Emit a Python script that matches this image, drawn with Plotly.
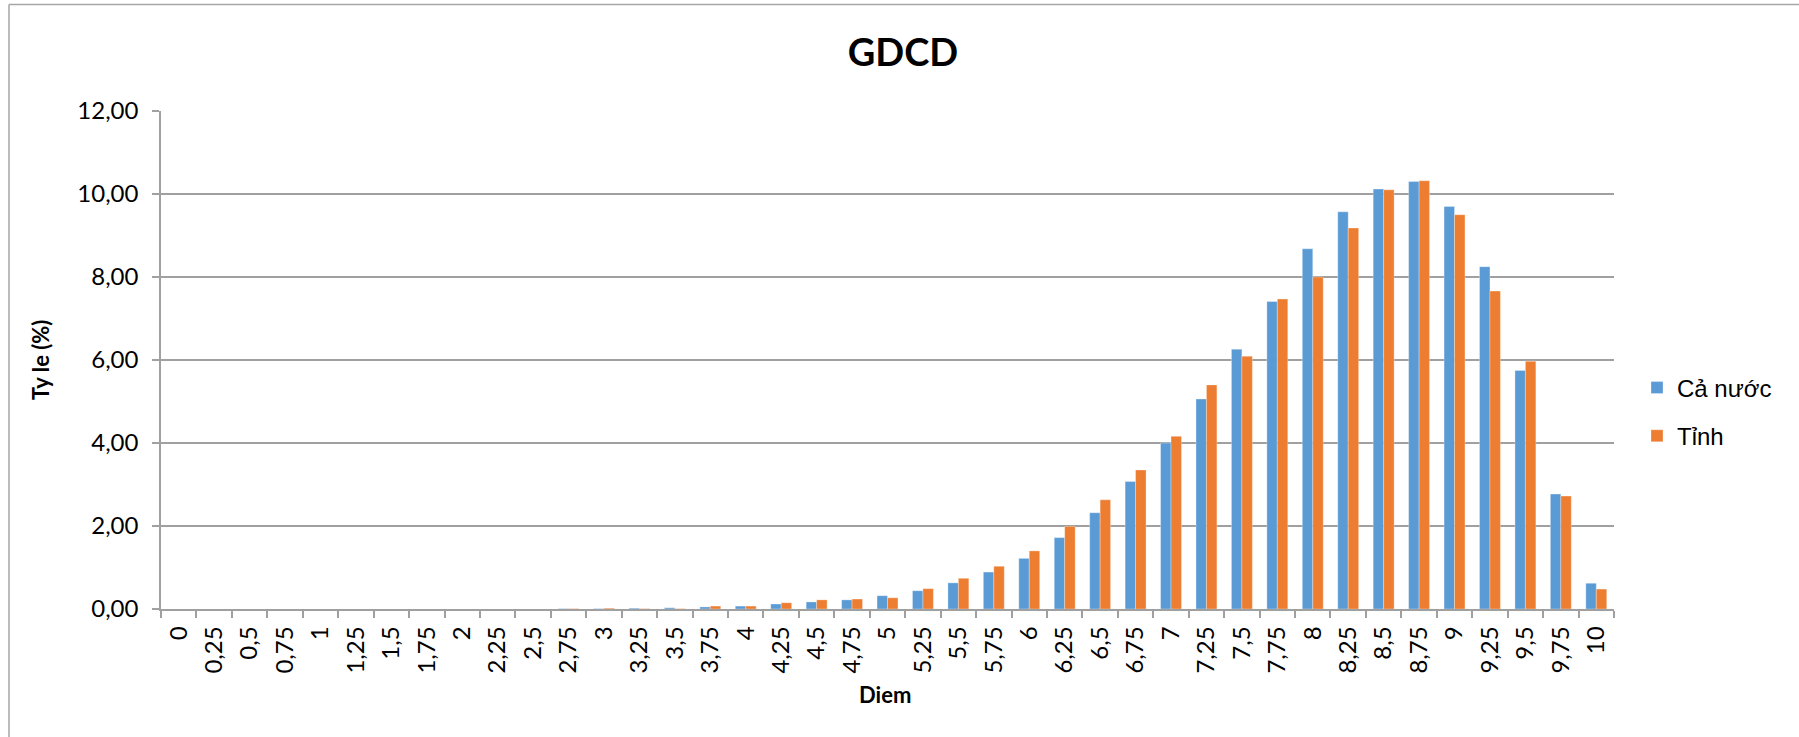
import plotly.graph_objects as go

categories = ["0", "0,25", "0,5", "0,75", "1", "1,25", "1,5", "1,75", "2", "2,25", "2,5",
              "2,75", "3", "3,25", "3,5", "3,75", "4", "4,25", "4,5", "4,75", "5", "5,25",
              "5,5", "5,75", "6", "6,25", "6,5", "6,75", "7", "7,25", "7,5", "7,75", "8",
              "8,25", "8,5", "8,75", "9", "9,25", "9,5", "9,75", "10"]

ca_nuoc = [0.0, 0.0, 0.0, 0.0, 0.0, 0.0, 0.0, 0.0, 0.0, 0.0, 0.0,
           0.01, 0.01, 0.02, 0.03, 0.05, 0.07, 0.12, 0.17, 0.22, 0.32, 0.44,
           0.63, 0.89, 1.22, 1.72, 2.32, 3.07, 4.00, 5.06, 6.26, 7.41, 8.68,
           9.57, 10.12, 10.30, 9.70, 8.25, 5.75, 2.77, 0.62]

tinh = [0.0, 0.0, 0.0, 0.0, 0.0, 0.0, 0.0, 0.0, 0.0, 0.0, 0.0,
        0.01, 0.02, 0.01, 0.01, 0.07, 0.07, 0.15, 0.22, 0.24, 0.27, 0.49,
        0.74, 1.03, 1.40, 1.99, 2.63, 3.35, 4.16, 5.40, 6.09, 7.47, 8.00,
        9.18, 10.10, 10.32, 9.50, 7.66, 5.97, 2.72, 0.48]

series_names = ["Cả nước", "Tỉnh"]
colors = ["#5B9BD5", "#ED7D31"]

W, H = 1799, 737
L, R, T, B = 161, 185, 111, 128
pw = W - L - R
ph = H - T - B

def px_x(x):
    return (x - L) / pw

def px_y(y):
    return (H - B - y) / ph

fig = go.Figure()
for i, (name, vals) in enumerate(zip(series_names, [ca_nuoc, tinh])):
    fig.add_trace(go.Bar(
        x=categories, y=vals, name=name,
        marker=dict(color=colors[i], line=dict(color="rgba(255,255,255,0.5)", width=0.6)),
        legendgroup=name,
    ))

grid_col = "#A0A0A0"
tick_font = dict(family="Lato", size=24, color="#000000")

fig.update_layout(
    width=W, height=H,
    margin=dict(l=L, r=R, t=T, b=B, autoexpand=False),
    paper_bgcolor="white", plot_bgcolor="white",
    separators=",.",
    barmode="group", bargap=0.41, bargroupgap=0.0,
    showlegend=True,
    legend=dict(
        x=px_x(1637), xanchor="left", y=px_y(412), yanchor="middle",
        font=dict(family="Liberation Sans", size=24, color="#000000"),
        tracegroupgap=14, bgcolor="rgba(0,0,0,0)",
    ),
    title=dict(
        text="<b>GDCD</b>", x=903 / W, xref="container", xanchor="center",
        y=1 - 53 / H, yref="container", yanchor="middle",
        font=dict(family="Lato", size=38, color="#000000"),
    ),
    xaxis=dict(
        type="category", categoryorder="array", categoryarray=categories,
        tickangle=-90, tickfont=tick_font, ticklabelstandoff=6,
        showgrid=False, showline=True, linecolor=grid_col, linewidth=1.5,
        ticks="outside", tickson="boundaries", ticklen=7, tickcolor=grid_col, tickwidth=1.5,
        zeroline=False, fixedrange=True,
    ),
    yaxis=dict(
        range=[0, 12], dtick=2, tick0=0, tickformat=".2f",
        tickfont=tick_font, ticklabelstandoff=9,
        showgrid=True, gridcolor=grid_col, gridwidth=1.5,
        showline=True, linecolor=grid_col, linewidth=1.5,
        ticks="outside", ticklen=7, tickcolor=grid_col, tickwidth=1.5,
        zeroline=False, fixedrange=True,
    ),
    annotations=[
        dict(text="<b>Ty le (%)</b>", xref="paper", yref="paper",
             x=px_x(40), y=0.5, xanchor="center", yanchor="middle",
             textangle=-90, showarrow=False,
             font=dict(family="Lato", size=22, color="#000000")),
        dict(text="<b>Diem</b>", xref="paper", yref="paper",
             x=px_x(885), y=px_y(694), xanchor="center", yanchor="middle",
             showarrow=False, font=dict(family="Lato", size=22, color="#000000")),
    ],
    shapes=[
        dict(type="line", xref="paper", yref="paper",
             x0=px_x(9), x1=px_x(W + 5), y0=px_y(4.5), y1=px_y(4.5),
             line=dict(color="#A6A6A6", width=1.5)),
        dict(type="line", xref="paper", yref="paper",
             x0=px_x(9), x1=px_x(9), y0=px_y(4.5), y1=px_y(H + 5),
             line=dict(color="#A6A6A6", width=1.5)),
    ],
)

fig.write_html("out.html")
